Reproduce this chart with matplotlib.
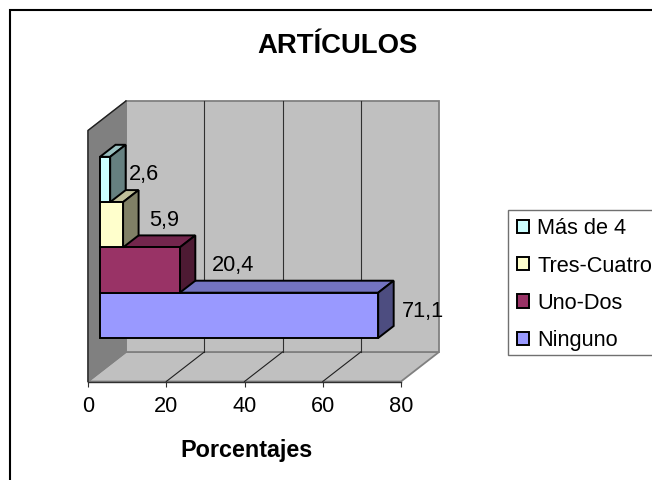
import matplotlib
matplotlib.use('Agg')
import matplotlib.pyplot as plt
from matplotlib.lines import Line2D
from matplotlib.patches import Patch, Polygon, Rectangle

plt.rcParams['font.family'] = ['Liberation Sans', 'DejaVu Sans']

categories = ['Ninguno', 'Uno-Dos', 'Tres-Cuatro', 'Más de 4']
values = [71.1, 20.4, 5.9, 2.6]
value_labels = ['71,1', '20,4', '5,9', '2,6']
front_colors = ['#9999FF', '#993366', '#FFFFCC', '#CCFFFF']
top_colors = ['#7373BF', '#73264D', '#BFBF99', '#99BFBF']
side_colors = ['#4D4D80', '#4D1A33', '#808066', '#668080']
x_ticks = [0, 20, 40, 60, 80]

W, H = 652, 480
X_PER_PX = 80 / 313.0     # percent per pixel
Y_PER_PX = 1 / 45.3       # category band per pixel
WALL_DX, WALL_DY = 38 * X_PER_PX, 29.5 * Y_PER_PX
BAR_DX, BAR_DY = 15.5 * X_PER_PX, 12 * Y_PER_PX
BAR_X0 = 12 * X_PER_PX
# label offset from the end of each bar, in pixels
label_offsets = [(45, -4), (53, -5), (41, -4.5), (34, -4.5)]

fig = plt.figure(figsize=(W / 100.0, H / 100.0), dpi=100, facecolor='white')
ax = fig.add_axes([88 / W, (H - 381.5) / H, 313 / W, 251 / H])
ax.set_xlim(0, 80)
y0 = -0.5 - 43.5 * Y_PER_PX
y1 = y0 + 251 * Y_PER_PX
ax.set_ylim(y0, y1)
ax.patch.set_visible(False)
for s in ['top', 'left', 'right']:
    ax.spines[s].set_visible(False)
ax.spines['bottom'].set_color('#303030')
ax.spines['bottom'].set_linewidth(1.0)


def face(points, color, edge='black', lw=1.4, z=2):
    p = Polygon(points, closed=True, facecolor=color, edgecolor=edge,
                linewidth=lw, clip_on=False, zorder=z, joinstyle='miter')
    ax.add_patch(p)


# walls and floor
face([(0, y0), (WALL_DX, y0 + WALL_DY), (80 + WALL_DX, y0 + WALL_DY), (80, y0)],
     '#C0C0C0', edge='#808080', lw=1.3, z=1)
face([(WALL_DX, y0 + WALL_DY), (80 + WALL_DX, y0 + WALL_DY),
      (80 + WALL_DX, y1 + WALL_DY), (WALL_DX, y1 + WALL_DY)],
     '#C0C0C0', edge='#808080', lw=1.3, z=1)
face([(0, y0), (WALL_DX, y0 + WALL_DY), (WALL_DX, y1 + WALL_DY), (0, y1)],
     '#808080', edge='#808080', lw=1.0, z=1)
ax.plot([0, 0, WALL_DX], [y0, y1, y1 + WALL_DY], color='#202020', lw=1.0,
        clip_on=False, zorder=1.5)

# gridlines over back wall and floor
for t in x_ticks[1:-1]:
    ax.plot([t + WALL_DX, t + WALL_DX], [y0 + WALL_DY, y1 + WALL_DY],
            color='#303030', lw=0.8, clip_on=False, zorder=1.5)
    ax.plot([t, t + WALL_DX], [y0, y0 + WALL_DY],
            color='#202020', lw=0.8, clip_on=False, zorder=1.5)

# bars, from the bottom one upwards
for i, v in enumerate(values):
    x0 = BAR_X0
    x1 = BAR_X0 + v
    b = i - 0.5
    t = i + 0.5
    z = 2 + i * 0.1
    face([(x0, t), (x0 + BAR_DX, t + BAR_DY), (x1 + BAR_DX, t + BAR_DY), (x1, t)],
         top_colors[i], z=z)
    face([(x1, b), (x1 + BAR_DX, b + BAR_DY), (x1 + BAR_DX, t + BAR_DY), (x1, t)],
         side_colors[i], z=z)
    face([(x0, b), (x1, b), (x1, t), (x0, t)], front_colors[i], z=z)
    ax.annotate(value_labels[i], xy=(x1, i), xycoords='data',
                xytext=(label_offsets[i][0] * 0.72, -label_offsets[i][1] * 0.72),
                textcoords='offset points', ha='center', va='center',
                fontsize=15.7, color='black', zorder=5, annotation_clip=False)

ax.set_xticks(x_ticks)
ax.set_xticklabels([str(t) for t in x_ticks])
ax.set_yticks([])
ax.tick_params(axis='x', length=3.6, width=0.8, color='#303030', pad=7,
               labelsize=15.7)

fig.text(338 / W, 1 - 46 / H, 'ARTÍCULOS', ha='center', va='center',
         fontsize=19.8, fontweight='bold')
fig.text(246.5 / W, 1 - 450 / H, 'Porcentajes', ha='center', va='center',
         fontsize=16.8, fontweight='bold')

# legend box runs past the right side of the figure
fig.add_artist(Rectangle((508 / W, 1 - 355 / H), 200 / W, 145 / H,
                         transform=fig.transFigure, facecolor='white',
                         edgecolor='#707070', linewidth=1.0, zorder=3))
handles = [Patch(facecolor=front_colors[i], edgecolor='black', linewidth=1.4,
                 label=categories[i]) for i in [3, 2, 1, 0]]
leg = fig.legend(handles=handles, loc='upper left',
                 bbox_to_anchor=(517 / W, 1 - 218.5 / H), borderaxespad=0,
                 fontsize=15.7, handlelength=0.55, handleheight=0.55,
                 handletextpad=0.37, borderpad=0, labelspacing=0.74,
                 frameon=False)
leg.set_zorder(4)

# outer frame, only the top and left sides fall inside the figure
fig.add_artist(Line2D([9.5 / W, 9.5 / W, 1.0], [0, 1 - 10 / H, 1 - 10 / H],
                      color='black', lw=1.5, solid_joinstyle='miter'))

fig.savefig('out.png', dpi=100)
